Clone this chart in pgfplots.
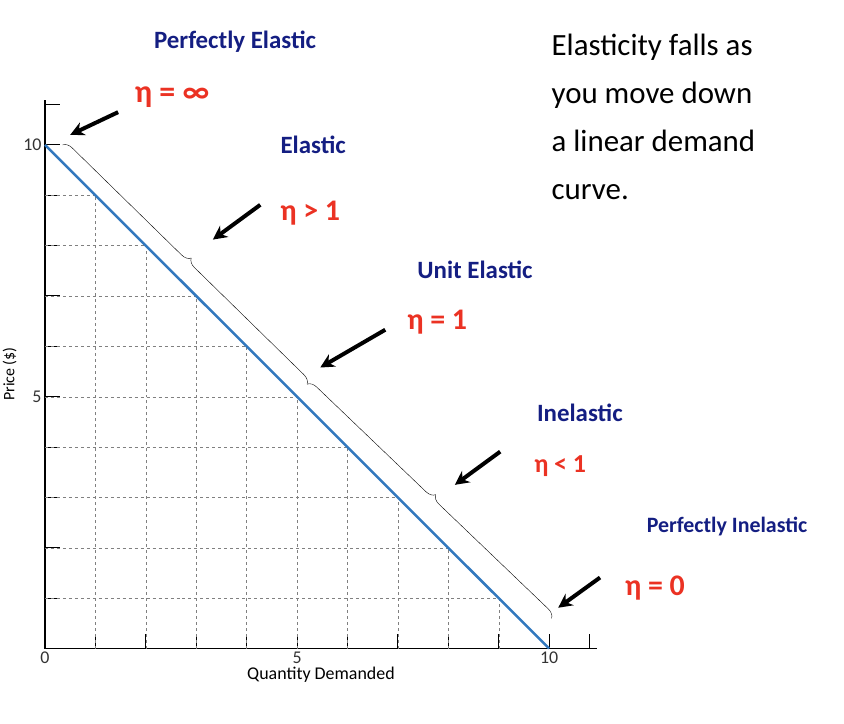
\documentclass[border=0pt]{standalone}
\usepackage{pgfplots}
\pgfplotsset{compat=1.18}
\usepackage{fontspec}
\setmainfont{Carlito}
\usetikzlibrary{decorations.pathreplacing,arrows.meta}
\definecolor{navy}{RGB}{20,30,130}
\definecolor{ered}{RGB}{235,50,35}
\definecolor{lblue}{RGB}{50,120,190}
\begin{document}
\begin{tikzpicture}
\begin{axis}[
  scale only axis, width=552bp, height=549bp,
  xmin=0, xmax=10.95, ymin=0, ymax=10.9,
  axis x line=bottom, axis y line=left,
  axis line style={-, line width=1.2pt},
  xtick={0,1,2,3,4,5,6,7,8,9,10,10.8},
  xticklabels={{0},{},{},{},{},{5},{},{},{},{},{10},{}},
  ytick={1,2,3,4,5,6,7,8,9,10,10.8},
  yticklabels={{},{},{},{},{5},{},{},{},{},{10},{}},
  tick align=inside, major tick length=15bp,
  tick style={black, line width=1pt},
  ticklabel style={font=\fontsize{18}{20}\selectfont, text=black!80},
  /pgf/number format/assume math mode=true,
  xlabel={Quantity Demanded}, ylabel={Price (\$)},
  xlabel style={font=\fontsize{18}{20}\selectfont, yshift=4bp},
  ylabel style={font=\fontsize{16}{18}\selectfont},
  clip=false,
  gridl/.style={dashed, gray, thin, forget plot},
]
\addplot[gridl] coordinates {(1,0) (1,9)};
\addplot[gridl] coordinates {(2,0) (2,8)};
\addplot[gridl] coordinates {(3,0) (3,7)};
\addplot[gridl] coordinates {(4,0) (4,6)};
\addplot[gridl] coordinates {(5,0) (5,5)};
\addplot[gridl] coordinates {(6,0) (6,4)};
\addplot[gridl] coordinates {(7,0) (7,3)};
\addplot[gridl] coordinates {(8,0) (8,2)};
\addplot[gridl] coordinates {(9,0) (9,1)};
\addplot[gridl] coordinates {(0,1) (9,1)};
\addplot[gridl] coordinates {(0,2) (8,2)};
\addplot[gridl] coordinates {(0,3) (7,3)};
\addplot[gridl] coordinates {(0,4) (6,4)};
\addplot[gridl] coordinates {(0,5) (5,5)};
\addplot[gridl] coordinates {(0,6) (4,6)};
\addplot[gridl] coordinates {(0,7) (3,7)};
\addplot[gridl] coordinates {(0,8) (2,8)};
\addplot[gridl] coordinates {(0,9) (1,9)};
\addplot[lblue, line width=2.5pt] coordinates {(0,10) (10,0)};
\draw[decorate, decoration={brace, amplitude=9bp}, thin] (axis cs:0.35,10.0) -- (axis cs:5.2,5.25);
\draw[decorate, decoration={brace, amplitude=9bp}, thin] (axis cs:5.2,5.25) -- (axis cs:10.05,0.6);
\draw[-{Stealth[length=14bp,width=14bp]}, line width=4pt] (axis cs:1.45,10.65) -- (axis cs:0.50,10.2);
\draw[-{Stealth[length=14bp,width=14bp]}, line width=4pt] (axis cs:4.27,8.81) -- (axis cs:3.33,8.12);
\draw[-{Stealth[length=14bp,width=14bp]}, line width=4pt] (axis cs:6.75,6.33) -- (axis cs:5.46,5.58);
\draw[-{Stealth[length=14bp,width=14bp]}, line width=4pt] (axis cs:9.03,3.91) -- (axis cs:8.13,3.25);
\draw[-{Stealth[length=14bp,width=14bp]}, line width=4pt] (axis cs:11.01,1.41) -- (axis cs:10.18,0.81);
\node[navy, font=\bfseries\fontsize{25}{28}\selectfont] at (axis cs:3.77,12.04) {Perfectly Elastic};
\node[navy, font=\bfseries\fontsize{25}{28}\selectfont] at (axis cs:5.32,10.0) {Elastic};
\node[navy, font=\bfseries\fontsize{25}{28}\selectfont] at (axis cs:8.53,7.52) {Unit Elastic};
\node[navy, font=\bfseries\fontsize{25}{28}\selectfont] at (axis cs:10.61,4.68) {Inelastic};
\node[navy, font=\bfseries\fontsize{22}{26}\selectfont] at (axis cs:13.53,2.42) {Perfectly Inelastic};
\node[ered, font=\bfseries\fontsize{32}{34}\selectfont] at (axis cs:2.52,10.95) {η = ∞};
\node[ered, font=\bfseries\fontsize{30}{34}\selectfont] at (axis cs:5.26,8.65) {η > 1};
\node[ered, font=\bfseries\fontsize{30}{34}\selectfont] at (axis cs:7.78,6.49) {η = 1};
\node[ered, font=\bfseries\fontsize{26}{30}\selectfont] at (axis cs:10.22,3.63) {η < 1};
\node[ered, font=\bfseries\fontsize{30}{34}\selectfont] at (axis cs:12.1,1.21) {η = 0};
\node[anchor=west, align=left, font=\fontsize{31}{48}\selectfont] at (axis cs:9.98,10.56) {Elasticity falls as\\you move down\\a linear demand\\curve.};
\coordinate (bl) at (axis cs:-0.893,-1.488);
\coordinate (tr) at (axis cs:15.85,12.877);
\end{axis}
\pgfresetboundingbox
\useasboundingbox (bl) rectangle (tr);
\end{tikzpicture}
\end{document}
